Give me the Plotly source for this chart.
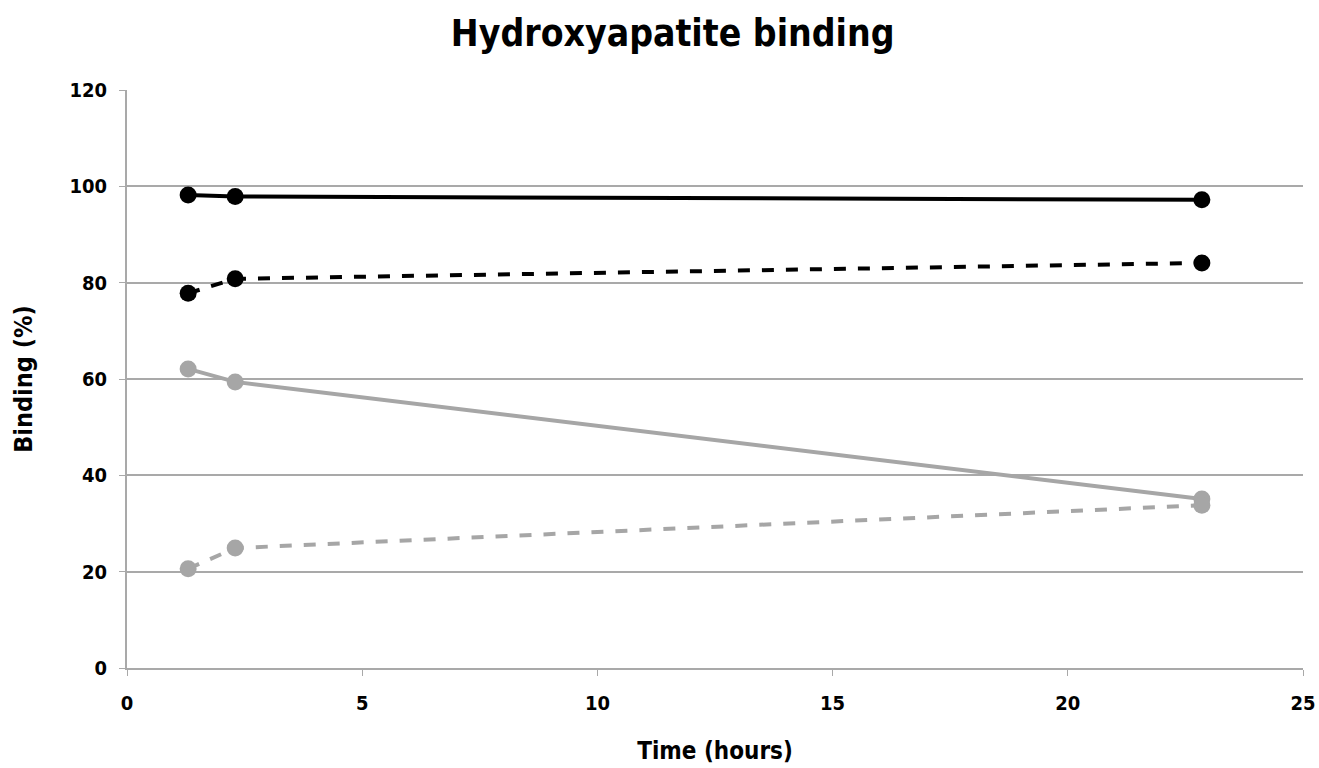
"""Hydroxyapatite binding over time."""

import plotly.graph_objects as go

# Data
time_hours = [1.3, 2.3, 22.85]
black_solid = [98.2, 97.9, 97.2]
black_dashed = [77.8, 80.8, 84.1]
gray_solid = [62.1, 59.4, 35.1]
gray_dashed = [20.6, 24.9, 33.8]

x_ticks = [0, 5, 10, 15, 20, 25]
y_ticks = [0, 20, 40, 60, 80, 100, 120]

COLOR_BLACK = "#000000"
COLOR_GRAY = "#A6A6A6"
COLOR_GRID = "#A9A9A9"
FONT = "Liberation Sans Narrow, DejaVu Sans Condensed, Arial Narrow, sans-serif"

series = [
    (black_solid, COLOR_BLACK, "solid"),
    (black_dashed, COLOR_BLACK, "dash"),
    (gray_solid, COLOR_GRAY, "solid"),
    (gray_dashed, COLOR_GRAY, "dash"),
]

fig = go.Figure()
for values, color, dash in series:
    fig.add_trace(
        go.Scatter(
            x=time_hours,
            y=values,
            mode="lines+markers",
            line=dict(color=color, width=4, dash=dash),
            marker=dict(color=color, size=17),
            showlegend=False,
        )
    )

fig.update_layout(
    width=1319,
    height=768,
    margin=dict(l=127, r=16, t=90, b=100),
    plot_bgcolor="white",
    paper_bgcolor="white",
    font=dict(family=FONT, color="black"),
    title=dict(
        text="<b>Hydroxyapatite binding</b>",
        x=0.51,
        xanchor="center",
        y=0.957,
        yanchor="middle",
        font=dict(size=37, family=FONT, color="black"),
    ),
    xaxis=dict(
        range=[0, 25],
        tickvals=x_ticks,
        ticktext=[f"<b>{t}</b>" for t in x_ticks],
        tickfont=dict(size=20, family=FONT),
        ticklabelstandoff=10,
        automargin=False,
        showgrid=False,
        zeroline=False,
        showline=True,
        linecolor=COLOR_GRID,
        linewidth=2,
        ticks="outside",
        ticklen=6,
        tickcolor=COLOR_GRID,
        tickwidth=1,
        title=dict(
            text="<b>Time (hours)</b>",
            font=dict(size=24, family=FONT),
            standoff=28,
        ),
    ),
    yaxis=dict(
        range=[0, 120],
        tickvals=y_ticks,
        ticktext=[f"<b>{t}</b>" for t in y_ticks],
        tickfont=dict(size=20, family=FONT),
        ticklabelstandoff=8,
        automargin=False,
        showgrid=True,
        gridcolor=COLOR_GRID,
        gridwidth=2,
        zeroline=False,
        showline=True,
        linecolor=COLOR_GRID,
        linewidth=2,
        ticks="outside",
        ticklen=6,
        tickcolor=COLOR_GRID,
        tickwidth=1,
        title=dict(
            text="<b>Binding (%)</b>",
            font=dict(size=25, family=FONT),
            standoff=30,
        ),
    ),
)

# drop the default page margin so the figure sits at the window's corner
fig.write_html(
    "out.html",
    config={"displayModeBar": False},
    post_script="document.body.style.margin = '0';",
)
